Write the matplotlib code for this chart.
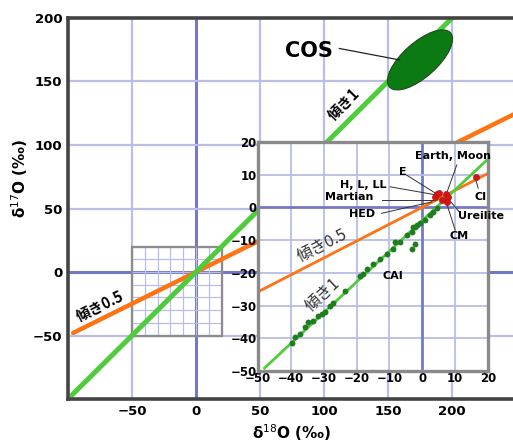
import matplotlib

matplotlib.use("Agg")
import matplotlib.pyplot as plt
from matplotlib.patches import Ellipse, Rectangle

plt.rcParams["font.family"] = ["Noto Sans CJK JP", "DejaVu Sans"]

# main panel
main_ticks = [-50, 0, 50, 100, 150, 200]
slope1_x = [-97, 200]
slope1_y = [-97, 200]
slope05_x = [-96, 250]
slope05_y = [-48, 125]
cos_center = (175, 167)
cos_size = (64, 27)
cos_angle = 42

# inset panel
inset_ticks = [-50, -40, -30, -20, -10, 0, 10, 20]
ccam_x = [-48, 20]
ccam_y = [-49.1, 14.8]
tfl_x = [-50, 20]
tfl_y = [-25.8, 10.4]

cai_x = [-39.8, -38.7, -37.2, -35.7, -34.7, -33.2, -31.6, -30.6, -29.6, -28.1,
         -27.1, -23.5, -19.0, -17.9, -16.9, -14.9, -12.9, -10.8, -8.8, -8.3,
         -6.8, -4.7, -3.2, -2.7, -2.2, -1.7, -0.7, 0.8, 2.3, 3.3, 4.4,
         -3.2, -2.2]
cai_y = [-41.3, -39.7, -38.7, -36.7, -35.1, -34.6, -33.1, -32.6, -32.1, -30.0,
         -29.3, -25.5, -20.9, -20.4, -18.8, -17.3, -15.8, -14.2, -12.7, -10.5,
         -10.6, -8.4, -7.4, -6.0, -5.9, -5.5, -4.9, -3.9, -2.3, -1.3, -0.3,
         -12.7, -11.2]

met_x = [3.9, 4.6, 5.2, 5.9, 7.2, 7.9, 7.4, 16.3]
met_y = [3.1, 4.1, 4.3, 2.3, 4.1, 3.1, 1.7, 9.2]

# label, text position, leader start, leader end
met_labels = [
    ("Earth, Moon", (9.3, 15.7), (10.5, 13.0), (6.9, 2.9)),
    ("E", (-5.9, 10.9), (-4.8, 9.9), (4.1, 4.3)),
    ("H, L, LL", (-18.0, 6.9), (-9.8, 6.3), (4.4, 3.8)),
    ("Martian", (-22.3, 3.2), (-12.4, 2.3), (3.9, 2.3)),
    ("HED", (-18.4, -2.0), (-12.4, -1.8), (2.9, 1.7)),
    ("Ureilite", (17.8, -2.6), (11.5, -1.7), (7.4, 3.3)),
    ("CM", (11.2, -8.7), (10.0, -6.9), (7.4, 1.3)),
    ("CI", (17.6, 3.2), (17.0, 5.9), (16.3, 8.4)),
]

GRID = "#b9bde8"
ZERO = "#7479c6"
GREEN = "#4fcc3c"
ORANGE = "#ff7312"

fig = plt.figure(figsize=(5.13, 4.48), dpi=100)
ax = fig.add_axes([68 / 513, 49 / 448, 448 / 513, 381 / 448])
ax.set_xlim(-100, 250)
ax.set_ylim(-100, 200)
ax.set_xticks(main_ticks)
ax.set_yticks(main_ticks)
ax.tick_params(length=0, pad=4, labelsize=9.5)
for lab in ax.get_xticklabels() + ax.get_yticklabels():
    lab.set_fontweight("bold")
    lab.set_family("DejaVu Sans")
for v in main_ticks:
    c, lw = (ZERO, 2.2) if v == 0 else (GRID, 1.6)
    ax.axvline(v, color=c, lw=lw, zorder=0)
    ax.axhline(v, color=c, lw=lw, zorder=0)
for s in ax.spines.values():
    s.set_color("#444444")
    s.set_linewidth(2.6)

# small box marking the inset range
for v in range(-50, 21, 10):
    ax.plot([v, v], [-50, 20], color=GRID, lw=0.9, zorder=1)
    ax.plot([-50, 20], [v, v], color=GRID, lw=0.9, zorder=1)
ax.add_patch(Rectangle((-50, -50), 70, 70, fill=False, ec="#8c8c8c", lw=1.6,
                       zorder=1.5))

ax.plot(slope05_x, slope05_y, color=ORANGE, lw=3.2, zorder=2,
        solid_capstyle="round")
ax.plot(slope1_x, slope1_y, color=GREEN, lw=3.6, zorder=2,
        solid_capstyle="round")
ax.add_patch(Ellipse(cos_center, cos_size[0], cos_size[1], angle=cos_angle,
                     fc="#0b7a12", ec="#1e4a1e", lw=0.8, zorder=3))
ax.plot([112, 159], [176, 167], color="#222222", lw=0.9, zorder=3)
ax.text(88, 174, "COS", fontsize=15, fontweight="bold", family="DejaVu Sans",
        ha="center", va="center")
ax.text(116, 132, "傾き1", fontsize=10.5, fontweight="bold", rotation=45,
        ha="center", va="center")
ax.text(-75, -27, "傾き0.5", fontsize=10.5, fontweight="bold", rotation=26,
        ha="center", va="center")

ax.set_xlabel("δ$^{18}$O (‰)", fontsize=11, fontweight="bold",
              family="DejaVu Sans", va="center")
ax.xaxis.set_label_coords(0.5, -0.088)
ax.set_ylabel("δ$^{17}$O (‰)", fontsize=11, fontweight="bold",
              family="DejaVu Sans", va="center")
ax.yaxis.set_label_coords(-0.108, 0.58)

# inset
ins = fig.add_axes([258 / 513, 77 / 448, 230 / 513, 229 / 448])
ins.set_xlim(-50, 20)
ins.set_ylim(-50, 20)
ins.set_xticks(inset_ticks)
ins.set_yticks(inset_ticks)
ins.tick_params(length=0, pad=1, labelsize=8.5)
for lab in ins.get_xticklabels() + ins.get_yticklabels():
    lab.set_fontweight("bold")
    lab.set_family("DejaVu Sans")
for v in inset_ticks:
    c, lw = (ZERO, 2.0) if v == 0 else (GRID, 1.3)
    ins.axvline(v, color=c, lw=lw, zorder=0)
    ins.axhline(v, color=c, lw=lw, zorder=0)
for s in ins.spines.values():
    s.set_color("#8a8a8a")
    s.set_linewidth(2.4)

ins.plot(tfl_x, tfl_y, color=ORANGE, lw=2.0, zorder=2)
ins.plot(ccam_x, ccam_y, color=GREEN, lw=2.0, zorder=2)
ins.scatter(cai_x, cai_y, s=18, color="#1f7d1f", zorder=3, lw=0)
ins.scatter(met_x, met_y, s=20, color="#e01010", ec="#902020", lw=0.4,
            zorder=4)
for name, txt, p0, p1 in met_labels:
    ins.plot([p0[0], p1[0]], [p0[1], p1[1]], color="#333333", lw=0.7,
             zorder=3.5)
    ins.text(txt[0], txt[1], name, fontsize=8, fontweight="bold",
             family="DejaVu Sans", ha="center", va="center", zorder=5,
             clip_on=False)
ins.text(-8.9, -21.0, "CAI", fontsize=8, fontweight="bold",
         family="DejaVu Sans", ha="center", va="center")
ins.text(-30.5, -11.8, "傾き0.5", fontsize=11.5, color="#333333", rotation=27,
         ha="center", va="center")
ins.text(-30.2, -26.8, "傾き1", fontsize=11.5, color="#333333", rotation=43,
         ha="center", va="center")

fig.savefig("out.png", dpi=100)
